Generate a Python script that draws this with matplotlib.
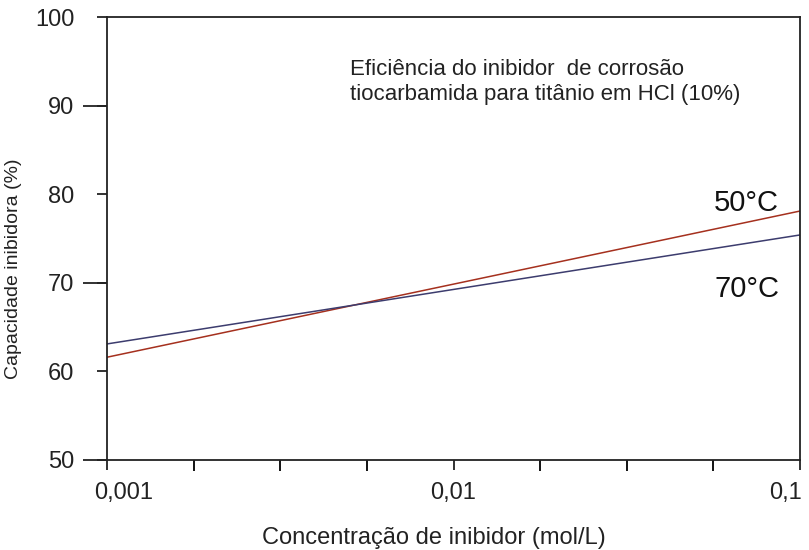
import numpy as np
import matplotlib.pyplot as plt
from matplotlib.ticker import FixedLocator, NullFormatter
from matplotlib.transforms import offset_copy, blended_transform_factory

plt.rcParams['font.family'] = ['Liberation Sans', 'DejaVu Sans']

# dados
conc = [0.001, 0.01, 0.1]
cap_50 = [61.6, 69.85, 78.1]
cap_70 = [63.1, 69.25, 75.4]

x_ticks = [0.001, 0.01, 0.1]
x_labels = ['0,001', '0,01', '0,1']
y_ticks = [50, 60, 70, 80, 90, 100]
y_long = [50, 70, 90]

fig = plt.figure(figsize=(8.09, 5.5), dpi=100)
ax = fig.add_axes([107/809, 1-460/550, (800-107)/809, (460-17)/550])

ax.plot(conc, cap_50, color='#a5301e', lw=1.1)
ax.plot(conc, cap_70, color='#3c3c6e', lw=1.1)

ax.set_xscale('log')
ax.set_xlim(0.001, 0.1)
ax.set_ylim(50, 100)

ax.xaxis.set_major_locator(FixedLocator(x_ticks))
ax.set_xticklabels(x_labels)
ax.xaxis.set_minor_locator(FixedLocator([10**(-3 + 0.25*k) for k in range(9)]))
ax.xaxis.set_minor_formatter(NullFormatter())
ax.tick_params(axis='x', which='major', length=7.5, width=1.3, pad=8, labelsize=17, colors='#222')
ax.tick_params(axis='x', which='minor', length=8, width=1.3)

ax.yaxis.set_major_locator(FixedLocator(y_ticks))
ax.tick_params(axis='y', which='major', length=7.5, width=1.3, pad=16, labelsize=17, colors='#222')

# marcas longas em 50, 70 e 90
trans = blended_transform_factory(ax.transAxes, ax.transData)
ax.hlines(y_long, -24/693, 0, colors='#222', linewidth=1.3, transform=trans, clip_on=False)

# desloca o primeiro e o último rótulo do eixo x
labs = ax.get_xticklabels()
labs[0].set_transform(offset_copy(labs[0].get_transform(), fig=fig, x=17, units='dots'))
labs[-1].set_transform(offset_copy(labs[-1].get_transform(), fig=fig, x=-14, units='dots'))

for s in ax.spines.values():
    s.set_linewidth(1.3)
    s.set_color('#222')

ax.set_xlabel('Concentração de inibidor (mol/L)', fontsize=17, color='#222')
ax.xaxis.set_label_coords((434-107)/693, -(527-460)/443)
ax.set_ylabel('Capacidade inibidora (%)', fontsize=14, color='#222')
ax.yaxis.set_label_coords(-(107-22)/693, (460-269)/443)

fig.text(350/809, 1-82/550, 'Eficiência do inibidor  de corrosão\ntiocarbamida para titânio em HCl (10%)',
         fontsize=16, color='#222', va='center', ha='left', linespacing=1.2)

fig.text(714/809, 1-203/550, '50°C', fontsize=21, va='center', ha='left', color='#111')
fig.text(714/809, 1-289/550, '70°C', fontsize=21, va='center', ha='left', color='#111')

fig.savefig('out.png', dpi=100)
